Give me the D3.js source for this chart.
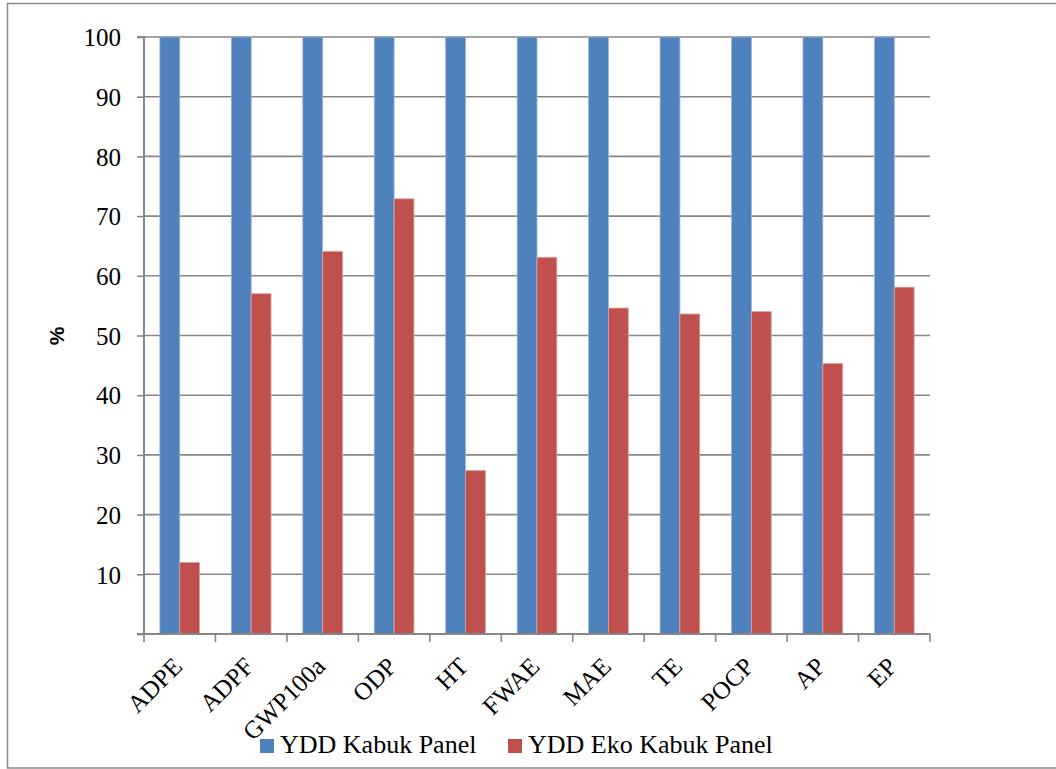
<!DOCTYPE html>
<html>
<head>
<meta charset="utf-8">
<script src="https://cdn.jsdelivr.net/npm/d3@7"></script>
<style>
  html, body { margin: 0; padding: 0; background: #fff; }
  svg { display: block; }
</style>
</head>
<body>
<svg id="chart" width="1056" height="769"></svg>
<script>
// Impact categories and relative results (%)
const categories = ["ADPE", "ADPF", "GWP100a", "ODP", "HT", "FWAE", "MAE", "TE", "POCP", "AP", "EP"];
const seriesNames = ["YDD Kabuk Panel", "YDD Eko Kabuk Panel"];
const kabukPanel = [100, 100, 100, 100, 100, 100, 100, 100, 100, 100, 100];
const ekoKabukPanel = [12, 57, 64.1, 72.9, 27.4, 63.1, 54.6, 53.6, 54.0, 45.3, 58.1];
const yTicks = [10, 20, 30, 40, 50, 60, 70, 80, 90, 100];
const colors = ["#4F81BD", "#C0504D"];
const edgeColors = ["#9BB3D8", "#DDA3A2"];

const SERIF = "'Liberation Serif', 'DejaVu Serif', 'Times New Roman', serif";

const svg = d3.select("#chart");
const margin = { left: 144, right: 930, top: 37, bottom: 634 };

// outer frame
svg.append("rect")
  .attr("x", 7.5).attr("y", 3.5)
  .attr("width", 1070).attr("height", 764.5)
  .attr("fill", "none").attr("stroke", "#8c8c8c").attr("stroke-width", 1.5);

const x = d3.scaleBand().domain(categories).range([margin.left, margin.right]).paddingInner(0).paddingOuter(0);
const xs = d3.scaleBand().domain(seriesNames).range([0, x.bandwidth()]).paddingInner(0).paddingOuter(0.8);
const y = d3.scaleLinear().domain([0, 100]).range([margin.bottom, margin.top]);

// horizontal gridlines
svg.append("g").selectAll("line").data(yTicks).join("line")
  .attr("x1", margin.left).attr("x2", margin.right)
  .attr("y1", d => y(d)).attr("y2", d => y(d))
  .attr("stroke", "#878787").attr("stroke-width", 1.6);

// bars
const rows = categories.map((c, i) => ({ cat: c, values: [kabukPanel[i], ekoKabukPanel[i]] }));
const groups = svg.append("g").selectAll("g").data(rows).join("g")
  .attr("transform", d => `translate(${x(d.cat)},0)`);
groups.selectAll("rect").data(d => d.values.map((v, k) => ({ v, k }))).join("rect")
  .attr("x", d => xs(seriesNames[d.k]))
  .attr("width", xs.bandwidth())
  .attr("y", d => y(d.v))
  .attr("height", d => y(0) - y(d.v))
  .attr("fill", d => colors[d.k])
  .attr("stroke", d => edgeColors[d.k])
  .attr("stroke-width", 0.8);

// y axis
const yAxis = d3.axisLeft(y).tickValues([0].concat(yTicks)).tickSize(7).tickFormat(d => d === 0 ? "" : d);
const gy = svg.append("g").attr("transform", `translate(${margin.left},0)`).call(yAxis)
  .attr("font-family", SERIF).attr("font-size", 25);
gy.select(".domain").attr("stroke", "#878787").attr("stroke-width", 2).attr("d", `M-7,${y(0)}H0V${y(100)}H-7`);
gy.selectAll(".tick line").attr("stroke", "#878787").attr("stroke-width", 1.6);
gy.selectAll(".tick text")
  .attr("x", -23).attr("dy", "0.35em")
  .attr("fill", "#000");

// x axis line with boundary ticks
const boundaries = categories.map(c => x(c)).concat([margin.right]);
svg.append("line")
  .attr("x1", margin.left).attr("x2", margin.right)
  .attr("y1", y(0)).attr("y2", y(0))
  .attr("stroke", "#878787").attr("stroke-width", 2);
svg.append("g").selectAll("line").data(boundaries).join("line")
  .attr("x1", d => d).attr("x2", d => d)
  .attr("y1", y(0)).attr("y2", y(0) + 8)
  .attr("stroke", "#878787").attr("stroke-width", 1.6);

// rotated category labels
svg.append("g").attr("font-family", SERIF).attr("font-size", 25)
  .selectAll("text").data(categories).join("text")
  .attr("transform", d => `translate(${x(d) + x.bandwidth() / 2 + 4},668) rotate(-45)`)
  .attr("text-anchor", "end")
  .text(d => d);

// y axis title
svg.append("text")
  .attr("transform", "translate(64,336) rotate(-90)")
  .attr("text-anchor", "middle")
  .attr("font-family", "'Liberation Sans', Arial, sans-serif")
  .attr("font-weight", "bold")
  .attr("font-size", 21)
  .text("%");

// legend
const legendX = [260, 508];
const legend = svg.append("g").attr("font-family", SERIF).attr("font-size", 26)
  .selectAll("g").data(seriesNames).join("g")
  .attr("transform", (d, i) => `translate(${legendX[i]},739)`);
legend.append("rect").attr("width", 14).attr("height", 14).attr("fill", (d, i) => colors[i]);
legend.append("text").attr("x", 20).attr("y", 14).text(d => d);
</script>
</body>
</html>
